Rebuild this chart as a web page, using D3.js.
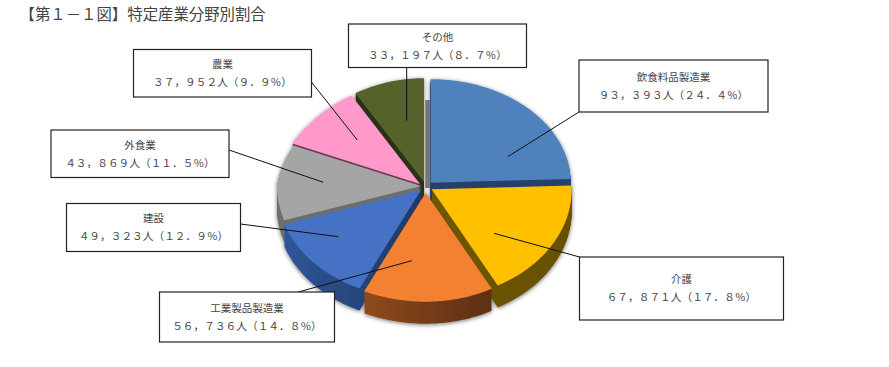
<!DOCTYPE html>
<html lang="ja">
<head>
<meta charset="utf-8">
<script src="https://cdn.jsdelivr.net/npm/d3@7"></script>
<style>
    html, body { margin: 0; background: #fff; }
    svg { display: block; }
    text { font-family: "Noto Sans CJK JP", sans-serif; fill: #444; }
</style>
</head>
<body>
<script>
const titleText = "【第１－１図】特定産業分野別割合";

// chart data, clockwise from twelve o'clock
const categories = ["飲食料品製造業", "介護", "工業製品製造業", "建設", "外食業", "農業", "その他"];
const workers = [93393, 67871, 56736, 49323, 43869, 37952, 33197];
const shares = [24.4, 17.8, 14.8, 12.9, 11.5, 9.9, 8.7];

// slice styles and layout
const topColors = ["#4f81bd", "#ffc000", "#f28131", "#4472c4", "#a5a5a5", "#ff99cc", "#55632b"];
const sideColors = [
    ["#25406a", "#25406a"], ["#6f5600", "#665000"], ["#8f4a1c", "#5c2f13"], ["#2f5597", "#203864"],
    ["#6e6e6e", "#6e6e6e"], ["#6a3a58", "#6a3a58"], ["#2a3316", "#2a3316"]
];
const apexes = [[430.7, 182.7], [431.7, 189.3], [425.7, 192.7], [421, 190], [421, 186], [420, 184], [424, 181.7]];
const boxes = [[579, 60, 189, 52], [579.5, 257, 204, 63], [159.5, 292, 175, 50], [66.5, 203.5, 174, 48],
    [51, 130, 178, 47.5], [133.5, 49.5, 178, 47.5], [348.5, 24, 178, 43.5]];
const leaders = [[[579, 112], [507.7, 156.7]], [[579.5, 257], [494, 233.3]], [[298.3, 292], [411.7, 260.7]], [[240.5, 224], [338.3, 236.7]],
    [[229, 150], [323.3, 182.3]], [[311, 81.5], [357.3, 140]], [[406.7, 67], [406.7, 120.7]]];
// grey wall seen through the gap at twelve o'clock
const gapWall = [[427.5, 100], [427.5, 188]];

const width = 889, height = 367;
const radiusRight = 140, radiusLeft = 144, radiusBack = 103.5, radiusFront = 109;
const backLeftTaper = 14;
const depth = 22;

const fullWidth = s => s.replace(/[0-9,.%]/g, c => String.fromCharCode(c.charCodeAt(0) + 0xFEE0));

const svg = d3.select("body").append("svg")
    .attr("width", width)
    .attr("height", height);

svg.append("text")
    .attr("x", 19.5)
    .attr("y", 20)
    .style("font-size", "15.4px")
    .text(titleText);

const defs = svg.append("defs");

const shadow = defs.append("filter")
    .attr("id", "pieShadow")
    .attr("x", "-10%").attr("y", "-10%")
    .attr("width", "120%").attr("height", "125%");
shadow.append("feDropShadow")
    .attr("dx", 0).attr("dy", 1)
    .attr("stdDeviation", 2.2)
    .attr("flood-color", "#000")
    .attr("flood-opacity", 0.55);

defs.append("filter")
    .attr("id", "gapBlur")
    .attr("filterUnits", "userSpaceOnUse")
    .attr("x", 415).attr("y", 90)
    .attr("width", 25).attr("height", 110)
    .append("feGaussianBlur")
    .attr("stdDeviation", 0.7);

sideColors.forEach(function (c, i) {
    const gradient = defs.append("linearGradient").attr("id", "side" + i);
    gradient.append("stop").attr("offset", "0%").attr("stop-color", c[0]);
    gradient.append("stop").attr("offset", "100%").attr("stop-color", c[1]);
});

const slices = d3.pie().sort(null)(workers);

// the pie is tilted: the rim nearer the viewer reads a little larger
function rimPoint(angle, apex) {
    const c = Math.cos(angle), s = Math.sin(angle);
    const rx = s > 0 ? radiusRight : radiusLeft - backLeftTaper * Math.max(c, 0);
    return [apex[0] + rx * s, apex[1] - (c > 0 ? radiusBack : radiusFront) * c];
}

const line = d3.line();

function slicePath(d) {
    const apex = apexes[d.index];
    const steps = d3.range(0, 61).map(k => d.startAngle + (d.endAngle - d.startAngle) * k / 60);
    return line([apex, ...steps.map(a => rimPoint(a, apex))]) + "Z";
}

// back slices first so that the front ones overlap their walls
const drawOrder = slices.slice().sort((a, b) =>
    Math.cos((b.startAngle + b.endAngle) / 2) - Math.cos((a.startAngle + a.endAngle) / 2) > 0 ? 1 : -1);

svg.append("path")
    .attr("d", line(gapWall))
    .attr("filter", "url(#gapBlur)")
    .style("stroke", "#858585")
    .style("stroke-width", 4.5);

const pie = svg.append("g").attr("filter", "url(#pieShadow)");

const sliceGroups = pie.selectAll("g")
    .data(drawOrder)
    .enter().append("g");

sliceGroups.each(function (d) {
    const g = d3.select(this);
    g.selectAll("path.wall")
        .data(d3.range(depth, 0, -1))
        .enter().append("path")
        .attr("class", "wall")
        .attr("d", slicePath(d))
        .attr("transform", y => "translate(0," + y + ")")
        .style("fill", "url(#side" + d.index + ")");
    g.append("path")
        .attr("d", slicePath(d))
        .style("fill", topColors[d.index]);
});

svg.append("g").selectAll("line")
    .data(leaders)
    .enter().append("line")
    .attr("x1", d => d[0][0])
    .attr("y1", d => d[0][1])
    .attr("x2", d => d[1][0])
    .attr("y2", d => d[1][1])
    .style("stroke", "#111")
    .style("stroke-width", 1);

const labels = svg.append("g").selectAll("g")
    .data(categories)
    .enter().append("g")
    .attr("transform", (d, i) => "translate(" + boxes[i][0] + "," + boxes[i][1] + ")");

labels.append("rect")
    .attr("width", (d, i) => boxes[i][2])
    .attr("height", (d, i) => boxes[i][3])
    .style("fill", "#fff")
    .style("stroke", "#222")
    .style("stroke-width", 1.2);

labels.append("text")
    .attr("x", (d, i) => boxes[i][2] / 2)
    .attr("y", (d, i) => boxes[i][3] / 2 - 9)
    .attr("dy", ".36em")
    .attr("text-anchor", "middle")
    .style("font-size", "10.5px")
    .text(d => d);

labels.append("text")
    .attr("x", (d, i) => boxes[i][2] / 2)
    .attr("y", (d, i) => boxes[i][3] / 2 + 9)
    .attr("dy", ".36em")
    .attr("text-anchor", "middle")
    .style("font-size", "10.7px")
    .text((d, i) => fullWidth(d3.format(",")(workers[i])) + "人（" + fullWidth(shares[i].toFixed(1)) + "％）");
</script>
</body>
</html>
